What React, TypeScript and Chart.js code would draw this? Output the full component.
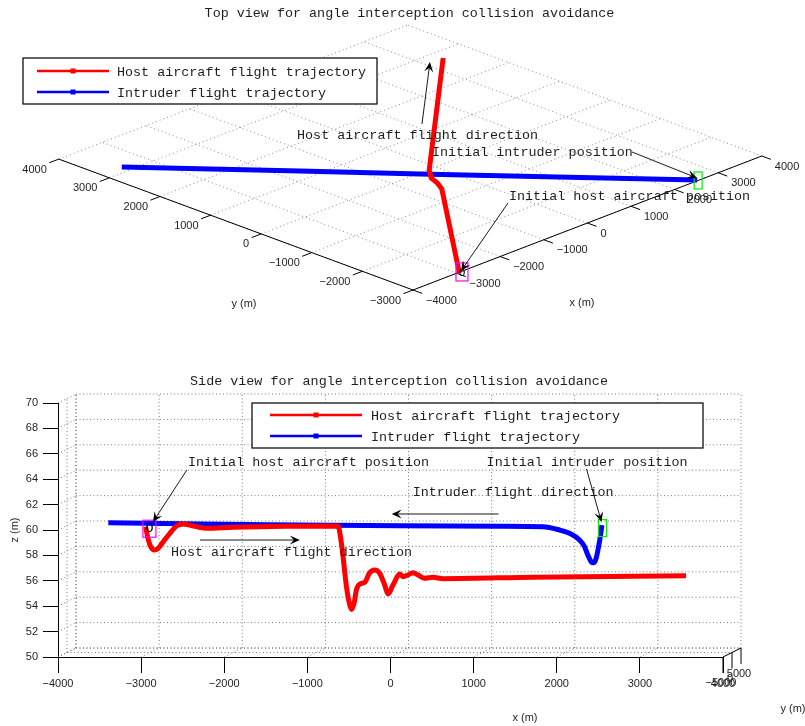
import React, { useEffect, useRef } from 'react';
import { Chart, registerables } from 'chart.js';

Chart.register(...registerables);

const MONO = '"Liberation Mono", "Courier New", monospace';
const SANS = '"Liberation Sans", Arial, Helvetica, sans-serif';
const INK = '#1e1e1e';

// ---------- series ----------
const seriesNames = ['Host aircraft flight trajectory', 'Intruder flight trajectory'];
const seriesColors = ['#ff0000', '#0000ff'];

// ---------- top view (world x / y in metres) ----------
const hostTopX = [-2960, -600, -470, -390, -170, 3400];
const hostTopY = [-3020, -640, -440, -250, -20, 2780];
const intruderTopX = [2540, -285, -1650, -3530];
const intruderTopY = [-2980, -135, 1260, 3160];
const topXTicks = [-4000, -3000, -2000, -1000, 0, 1000, 2000, 3000, 4000];
const topYTicks = [-3000, -2000, -1000, 0, 1000, 2000, 3000, 4000];
const hostStartTop = [-2900, -3020];
const intruderStartTop = [2540, -3000];

// ---------- side view (x in metres, z in metres) ----------
const hostSideX = [-2946, -2922, -2894, -2846, -2794, -2734, -2654, -2574, -2494, -2374, -2213, -1893, -631, -602, -571, -530, -490, -466, -438, -410, -370, -310, -250, -190, -130, -70, -30, 30, 111, 150, 210, 271, 331, 411, 511, 631, 1713, 3556];
const hostSideZ = [60.26, 59.47, 58.82, 58.43, 58.56, 59.08, 59.74, 60.31, 60.47, 60.31, 60.13, 60.21, 60.31, 59.47, 57.9, 55.54, 54.09, 53.75, 54.23, 55.28, 55.75, 55.88, 56.64, 56.85, 56.59, 55.67, 54.96, 55.67, 56.54, 56.32, 56.46, 56.64, 56.46, 56.2, 56.28, 56.17, 56.28, 56.4];
const intruderSideX = [2543, 2527, 2503, 2474, 2446, 2414, 2374, 2334, 2274, 2154, 2034, 1834, 1312, 111, -1492, -3395];
const intruderSideZ = [60.39, 59.6, 58.69, 57.77, 57.42, 57.5, 58.03, 58.69, 59.21, 59.74, 60.0, 60.26, 60.3, 60.33, 60.42, 60.57];
const sideXTicks = [-4000, -3000, -2000, -1000, 0, 1000, 2000, 3000, 4000];
const sideZTicks = [50, 52, 54, 56, 58, 60, 62, 64, 66, 68, 70];
const sideYTicks = [-5000, 0, 5000];
const hostStartSide = [-2900, 60.1];
const intruderStartSide = [2550, 60.15];

// ---------- annotations ----------
const topNotes = [
  { text: 'Host aircraft flight direction', at: [-588, 2232], from: [1152, 1262], to: [3129, 2807] },
  { text: 'Initial intruder position', at: [413, 427], from: [2662, -1588], to: [2602, -2924] },
  { text: 'Initial host aircraft position', at: [-60, -1502], from: [-284, -1676], to: [-2882, -2985] },
];
const sideNotes = [
  { text: 'Initial host aircraft position', at: [-2437, 65.28], from: [-2450, 64.72], to: [-2858, 60.63] },
  { text: 'Host aircraft flight direction', at: [-2642, 58.27], from: [-2293, 59.21], to: [-1091, 59.21] },
  { text: 'Initial intruder position', at: [1156, 65.35], from: [2358, 64.8], to: [2538, 60.63] },
  { text: 'Intruder flight direction', at: [267, 62.99], from: [1300, 61.26], to: [14, 61.26] },
];
const topTitle = 'Top view for angle interception collision avoidance';
const sideTitle = 'Side view for angle interception collision avoidance';

// ---------- view geometry ----------
const TOP_VIEW = { xAxis: [0.0436, 0.01675], yAxis: [-0.0506, 0.0187] };
const project = (x: number, y: number) => ({
  x: x * TOP_VIEW.xAxis[0] + y * TOP_VIEW.yAxis[0],
  y: x * TOP_VIEW.xAxis[1] + y * TOP_VIEW.yAxis[1],
});
const SIDE_DEPTH = [18, -9];

const fmt = (v: number) => (v < 0 ? '\u2212' + Math.abs(v) : String(v));

function seg(ctx: CanvasRenderingContext2D, a: number[], b: number[]) {
  ctx.beginPath();
  ctx.moveTo(a[0], a[1]);
  ctx.lineTo(b[0], b[1]);
  ctx.stroke();
}

function arrow(ctx: CanvasRenderingContext2D, a: number[], b: number[]) {
  const dx = b[0] - a[0], dy = b[1] - a[1];
  const len = Math.hypot(dx, dy);
  const ux = dx / len, uy = dy / len, nx = -uy, ny = ux;
  const L = 10, W = 4.5;
  ctx.save();
  ctx.strokeStyle = '#000';
  ctx.fillStyle = '#000';
  ctx.lineWidth = 0.9;
  ctx.setLineDash([]);
  ctx.beginPath();
  ctx.moveTo(a[0], a[1]);
  ctx.lineTo(b[0] - ux * L * 0.6, b[1] - uy * L * 0.6);
  ctx.stroke();
  ctx.beginPath();
  ctx.moveTo(b[0], b[1]);
  ctx.lineTo(b[0] - ux * L + nx * W, b[1] - uy * L + ny * W);
  ctx.lineTo(b[0] - ux * L * 0.6, b[1] - uy * L * 0.6);
  ctx.lineTo(b[0] - ux * L - nx * W, b[1] - uy * L - ny * W);
  ctx.closePath();
  ctx.fill();
  ctx.restore();
}

function drawLegend(ctx: CanvasRenderingContext2D, box: number[], rowsY: number[], line: number[], textX: number) {
  ctx.save();
  ctx.fillStyle = '#fff';
  ctx.fillRect(box[0], box[1], box[2] - box[0], box[3] - box[1]);
  ctx.strokeStyle = '#111';
  ctx.lineWidth = 1.3;
  ctx.strokeRect(box[0], box[1], box[2] - box[0], box[3] - box[1]);
  seriesNames.forEach((name, i) => {
    const y = rowsY[i];
    ctx.strokeStyle = seriesColors[i];
    ctx.fillStyle = seriesColors[i];
    ctx.lineWidth = 2.6;
    seg(ctx, [line[0], y], [line[1], y]);
    const m = (line[0] + line[1]) / 2;
    ctx.fillRect(m - 2.5, y - 2.5, 5, 5);
    ctx.fillStyle = INK;
    ctx.font = `13.4px ${MONO}`;
    ctx.textAlign = 'left';
    ctx.textBaseline = 'middle';
    ctx.fillText(name, textX, y + 1);
  });
  ctx.restore();
}

function noteText(ctx: CanvasRenderingContext2D, text: string, p: number[]) {
  ctx.save();
  ctx.font = `13.4px ${MONO}`;
  ctx.fillStyle = INK;
  ctx.textAlign = 'left';
  ctx.textBaseline = 'middle';
  ctx.fillText(text, p[0], p[1]);
  ctx.restore();
}

function startBox(ctx: CanvasRenderingContext2D, p: number[], w: number, h: number, color: string) {
  ctx.save();
  ctx.strokeStyle = color;
  ctx.lineWidth = 1.2;
  ctx.setLineDash([]);
  ctx.strokeRect(p[0] - w / 2, p[1] - h / 2, w, h);
  ctx.restore();
}

const topPlugin = {
  id: 'top3d',
  beforeDatasetsDraw(chart: any) {
    const ctx: CanvasRenderingContext2D = chart.ctx;
    const P = (x: number, y: number) => {
      const q = project(x, y);
      return [chart.scales.x.getPixelForValue(q.x), chart.scales.y.getPixelForValue(q.y)];
    };
    const x0 = topXTicks[0], x1 = topXTicks[topXTicks.length - 1];
    const y0 = topYTicks[0], y1 = topYTicks[topYTicks.length - 1];
    ctx.save();
    ctx.strokeStyle = 'rgba(90,90,90,0.7)';
    ctx.lineWidth = 1;
    ctx.setLineDash([1, 3]);
    topXTicks.forEach((xv) => seg(ctx, P(xv, y0), P(xv, y1)));
    topYTicks.forEach((yv) => seg(ctx, P(x0, yv), P(x1, yv)));
    ctx.setLineDash([]);
    ctx.strokeStyle = '#000';
    ctx.lineWidth = 1;
    seg(ctx, P(x0, y1), P(x0, y0));
    seg(ctx, P(x0, y0), P(x1, y0));
    topYTicks.forEach((yv) => seg(ctx, P(x0, yv), P(x0 - 220, yv)));
    topXTicks.forEach((xv) => seg(ctx, P(xv, y0), P(xv, y0 - 180)));
    ctx.font = `11px ${SANS}`;
    ctx.fillStyle = INK;
    ctx.textBaseline = 'middle';
    ctx.textAlign = 'right';
    topYTicks.forEach((yv) => {
      const p = P(x0, yv);
      ctx.fillText(fmt(yv), p[0] - 12, p[1] + 10.5);
    });
    ctx.textAlign = 'left';
    topXTicks.forEach((xv) => {
      const p = P(xv, y0);
      ctx.fillText(fmt(xv), p[0] + 13, p[1] + 10.5);
    });
    ctx.textAlign = 'center';
    ctx.fillText('y (m)', 244, 304);
    ctx.fillText('x (m)', 582, 303);
    ctx.restore();
  },
  afterDatasetsDraw(chart: any) {
    const ctx: CanvasRenderingContext2D = chart.ctx;
    const P = (x: number, y: number) => {
      const q = project(x, y);
      return [chart.scales.x.getPixelForValue(q.x), chart.scales.y.getPixelForValue(q.y)];
    };
    const hs = P(hostStartTop[0], hostStartTop[1]);
    const is = P(intruderStartTop[0], intruderStartTop[1]);
    startBox(ctx, hs, 12, 18, '#ff00ff');
    startBox(ctx, is, 8, 17, '#00ee00');
    ctx.save();
    ctx.font = `11px ${MONO}`;
    ctx.fillStyle = '#000';
    ctx.textAlign = 'center';
    ctx.textBaseline = 'middle';
    ctx.fillText('O', hs[0], hs[1] + 1);
    ctx.restore();
    topNotes.forEach((n) => {
      noteText(ctx, n.text, P(n.at[0], n.at[1]));
      arrow(ctx, P(n.from[0], n.from[1]), P(n.to[0], n.to[1]));
    });
    ctx.save();
    ctx.font = `13.4px ${MONO}`;
    ctx.fillStyle = INK;
    ctx.textAlign = 'center';
    ctx.textBaseline = 'middle';
    ctx.fillText(topTitle, 409.5, 13);
    ctx.restore();
    drawLegend(ctx, [23, 58, 377, 104], [71, 92], [37, 109], 117);
  },
};

const sidePlugin = {
  id: 'side3d',
  beforeDatasetsDraw(chart: any) {
    const ctx: CanvasRenderingContext2D = chart.ctx;
    const xs = chart.scales.x, zs = chart.scales.y;
    const yLo = sideYTicks[0], yHi = sideYTicks[sideYTicks.length - 1];
    const P = (x: number, y: number, z: number) => {
      const f = (y - yLo) / (yHi - yLo);
      return [xs.getPixelForValue(x) + f * SIDE_DEPTH[0], zs.getPixelForValue(z) + f * SIDE_DEPTH[1]];
    };
    const x0 = sideXTicks[0], x1 = sideXTicks[sideXTicks.length - 1];
    const z0 = sideZTicks[0], z1 = sideZTicks[sideZTicks.length - 1];
    ctx.save();
    ctx.strokeStyle = 'rgba(80,80,80,0.75)';
    ctx.lineWidth = 1;
    ctx.setLineDash([1, 2.5]);
    // back wall
    sideXTicks.forEach((xv) => seg(ctx, P(xv, yHi, z0), P(xv, yHi, z1)));
    sideZTicks.forEach((zv) => seg(ctx, P(x0, yHi, zv), P(x1, yHi, zv)));
    // left wall
    sideYTicks.slice(1).forEach((yv) => seg(ctx, P(x0, yv, z0), P(x0, yv, z1)));
    sideZTicks.forEach((zv) => seg(ctx, P(x0, yLo, zv), P(x0, yHi, zv)));
    // floor
    sideXTicks.forEach((xv) => seg(ctx, P(xv, yLo, z0), P(xv, yHi, z0)));
    sideYTicks.slice(1).forEach((yv) => seg(ctx, P(x0, yv, z0), P(x1, yv, z0)));
    ctx.setLineDash([]);
    // y axis (depth) at the right
    ctx.strokeStyle = '#000';
    seg(ctx, P(x1, yLo, z0), P(x1, yHi, z0));
    sideYTicks.forEach((yv) => {
      const p = P(x1, yv, z0);
      seg(ctx, p, [p[0], p[1] + 16]);
    });
    ctx.font = `11px ${SANS}`;
    ctx.fillStyle = INK;
    ctx.textAlign = 'center';
    ctx.textBaseline = 'middle';
    sideYTicks.forEach((yv) => {
      const p = P(x1, yv, z0);
      ctx.fillText(fmt(yv), p[0] - 2, p[1] + 26);
    });
    ctx.fillText('y (m)', 793, 354);
    ctx.fillText('x (m)', 525, 363);
    ctx.save();
    ctx.translate(15, 175);
    ctx.rotate(-Math.PI / 2);
    ctx.fillText('z (m)', 0, 0);
    ctx.restore();
    ctx.restore();
  },
  afterDatasetsDraw(chart: any) {
    const ctx: CanvasRenderingContext2D = chart.ctx;
    const xs = chart.scales.x, zs = chart.scales.y;
    const P = (x: number, z: number) => [xs.getPixelForValue(x), zs.getPixelForValue(z)];
    const hs = P(hostStartSide[0], hostStartSide[1]);
    const is = P(intruderStartSide[0], intruderStartSide[1]);
    startBox(ctx, hs, 13, 17, '#ff00ff');
    startBox(ctx, is, 8, 17, '#00ee00');
    ctx.save();
    ctx.font = `13.4px ${MONO}`;
    ctx.fillStyle = '#000';
    ctx.textAlign = 'center';
    ctx.textBaseline = 'middle';
    ctx.fillText('O', hs[0], hs[1]);
    ctx.restore();
    sideNotes.forEach((n) => {
      noteText(ctx, n.text, P(n.at[0], n.at[1]));
      arrow(ctx, P(n.from[0], n.from[1]), P(n.to[0], n.to[1]));
    });
    ctx.save();
    ctx.font = `13.4px ${MONO}`;
    ctx.fillStyle = INK;
    ctx.textAlign = 'center';
    ctx.textBaseline = 'middle';
    ctx.fillText(sideTitle, 399, 26);
    ctx.restore();
    drawLegend(ctx, [252, 48, 703, 93], [60, 81], [270, 362], 371);
  },
};

function lineDataset(i: number, xs: number[], ys: number[], map: (x: number, y: number) => { x: number; y: number }, smooth: boolean) {
  return {
    label: seriesNames[i],
    data: xs.map((x, k) => map(x, ys[k])),
    borderColor: seriesColors[i],
    backgroundColor: seriesColors[i],
    borderWidth: 5,
    pointRadius: 0,
    showLine: true,
    fill: false,
    borderJoinStyle: 'round',
    borderCapStyle: 'butt',
    cubicInterpolationMode: smooth ? 'monotone' : 'default',
    tension: 0,
  };
}

export default function App() {
  const topRef = useRef<HTMLCanvasElement | null>(null);
  const sideRef = useRef<HTMLCanvasElement | null>(null);

  useEffect(() => {
    const top = new Chart(topRef.current as HTMLCanvasElement, {
      type: 'scatter',
      data: {
        datasets: [
          lineDataset(0, hostTopX, hostTopY, project, false),
          lineDataset(1, intruderTopX, intruderTopY, project, false),
        ],
      } as any,
      options: {
        animation: false,
        responsive: false,
        devicePixelRatio: 1,
        events: [],
        layout: { padding: 0 },
        plugins: { legend: { display: false }, title: { display: false }, tooltip: { enabled: false } },
        scales: {
          x: { type: 'linear', display: false, min: -435.6, max: 369.4 },
          y: { type: 'linear', display: false, min: -188.1, max: 166.9 },
        },
      } as any,
      plugins: [topPlugin as any],
    });

    const side = new Chart(sideRef.current as HTMLCanvasElement, {
      type: 'scatter',
      data: {
        datasets: [
          lineDataset(0, hostSideX, hostSideZ, (x, y) => ({ x, y }), true),
          lineDataset(1, intruderSideX, intruderSideZ, (x, y) => ({ x, y }), true),
        ],
      } as any,
      options: {
        animation: false,
        responsive: false,
        devicePixelRatio: 1,
        events: [],
        layout: { padding: { top: 48, right: 82, left: 0, bottom: 0 } },
        plugins: { legend: { display: false }, title: { display: false }, tooltip: { enabled: false } },
        scales: {
          x: {
            type: 'linear',
            min: sideXTicks[0],
            max: sideXTicks[sideXTicks.length - 1],
            afterBuildTicks: (s: any) => { s.ticks = sideXTicks.map((v) => ({ value: v })); },
            afterFit: (s: any) => { s.height = 69; },
            grid: { drawOnChartArea: false, drawTicks: true, tickLength: 16, color: '#000', tickColor: '#000' },
            border: { display: true, color: '#000', width: 1 },
            ticks: {
              autoSkip: false,
              maxRotation: 0,
              padding: 4,
              color: INK,
              font: { family: SANS, size: 11 },
              callback: (v: any) => fmt(Number(v)),
            },
          },
          y: {
            type: 'linear',
            min: sideZTicks[0],
            max: sideZTicks[sideZTicks.length - 1],
            afterBuildTicks: (s: any) => { s.ticks = sideZTicks.map((v) => ({ value: v })); },
            afterFit: (s: any) => { s.width = 58; },
            grid: { drawOnChartArea: false, drawTicks: true, tickLength: 15, color: '#000', tickColor: '#000' },
            border: { display: true, color: '#000', width: 1 },
            ticks: {
              autoSkip: false,
              padding: 5,
              color: INK,
              font: { family: SANS, size: 11 },
              callback: (v: any) => fmt(Number(v)),
            },
          },
        },
      } as any,
      plugins: [sidePlugin as any],
    });

    return () => {
      top.destroy();
      side.destroy();
    };
  }, []);

  return (
    <div style={{ position: 'absolute', left: 0, top: 0, width: 805, height: 726, background: '#fff' }}>
      <canvas ref={topRef} width={805} height={355} style={{ display: 'block' }} />
      <canvas ref={sideRef} width={805} height={371} style={{ display: 'block' }} />
    </div>
  );
}
